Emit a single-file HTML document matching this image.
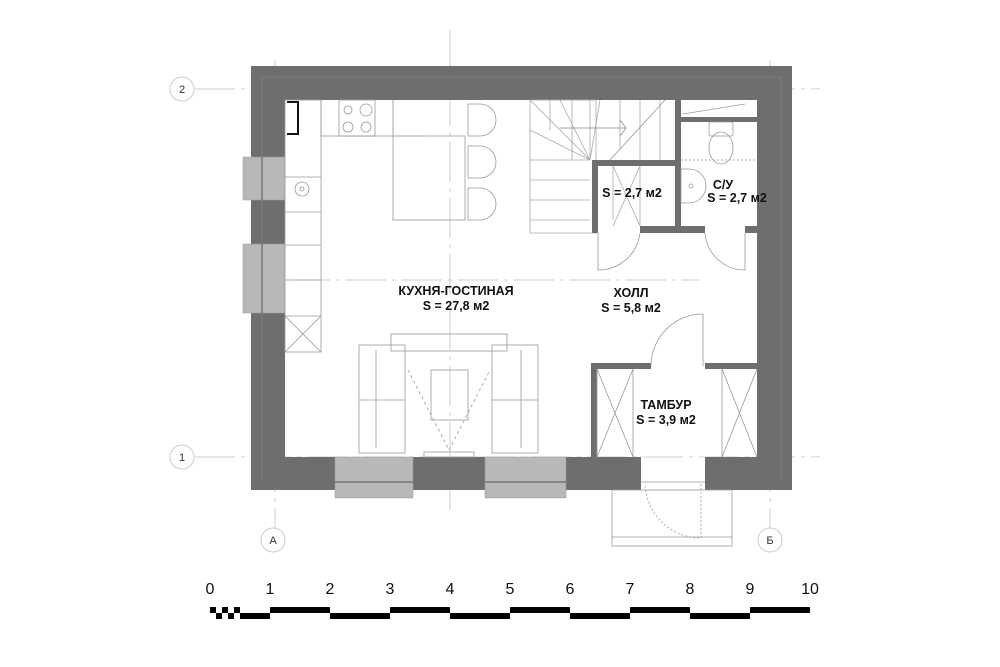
<!DOCTYPE html>
<html><head><meta charset="utf-8"><style>
html,body{margin:0;padding:0;background:#fff}
svg{display:block}
text{font-family:"Liberation Sans",sans-serif}
</style></head><body>
<svg width="1000" height="667" viewBox="0 0 1000 667" xmlns="http://www.w3.org/2000/svg">
<!-- axis lines -->
<g stroke="#ccc" stroke-width="1" fill="none">
<line x1="195" y1="89" x2="820" y2="89" stroke-dasharray="40 6 4 6"/>
<line x1="195" y1="457" x2="820" y2="457" stroke-dasharray="40 6 4 6"/>
<line x1="275" y1="60" x2="275" y2="528" stroke-dasharray="40 6 4 6"/>
<line x1="770" y1="60" x2="770" y2="528" stroke-dasharray="40 6 4 6"/>
<line x1="450" y1="30" x2="450" y2="510" stroke-dasharray="40 6 4 6"/>
<line x1="290" y1="280" x2="700" y2="280" stroke-dasharray="40 6 4 6"/>
</g>
<g fill="#fff" stroke="#ccc"><circle cx="182" cy="89" r="12"/><circle cx="182" cy="457" r="12"/><circle cx="273" cy="540" r="12"/><circle cx="770" cy="540" r="12"/></g>
<g font-size="11" text-anchor="middle" fill="#333"><text x="182" y="93">2</text><text x="182" y="461">1</text><text x="273" y="544">А</text><text x="770" y="544">Б</text></g>
<!-- outer walls -->
<path d="M251 66H792V490H705V457H757V100H285V457H641V490H251Z" fill="#6e6e6e" fill-rule="evenodd"/>
<path d="M262 77H781V479M262 77V479" fill="none" stroke="#888" stroke-width="0.6"/>
<!-- windows -->
<g fill="#b8b8b8" stroke="#999" stroke-width="0.5">
<rect x="243" y="157" width="42" height="43"/><rect x="243" y="244" width="42" height="69"/>
<rect x="335" y="457" width="78" height="41"/><rect x="485" y="457" width="81" height="41"/>
</g>
<g stroke="#555" stroke-width="1"><line x1="262" y1="157" x2="262" y2="200"/><line x1="262" y1="244" x2="262" y2="313"/><line x1="335" y1="482" x2="413" y2="482"/><line x1="485" y1="482" x2="566" y2="482"/></g>
<!-- kitchen -->
<g fill="none" stroke="#999" stroke-width="0.8">
<rect x="285" y="100" width="36" height="252"/>
<line x1="285" y1="177" x2="321" y2="177"/><line x1="285" y1="212" x2="321" y2="212"/><line x1="285" y1="245" x2="321" y2="245"/><line x1="285" y1="280" x2="321" y2="280"/><line x1="285" y1="316" x2="321" y2="316"/>
<path d="M285 316L321 352M321 316L285 352"/>
<path d="M321 100V136H393V100"/><rect x="339" y="100" width="36" height="36"/>
<circle cx="348" cy="110" r="4"/><circle cx="366" cy="110" r="6"/><circle cx="348" cy="127" r="5"/><circle cx="366" cy="127" r="5"/>
<circle cx="302" cy="189" r="7"/><circle cx="302" cy="189" r="2"/>
<rect x="393" y="136" width="72" height="84"/>
<path d="M468 104h12a16 16 0 0 1 0 32h-12z M468 146h12a16 16 0 0 1 0 32h-12z M468 188h12a16 16 0 0 1 0 32h-12z"/>
<line x1="393" y1="100" x2="393" y2="136" stroke-dasharray="2 2"/><line x1="393" y1="136" x2="428" y2="136" stroke-dasharray="2 2"/>
</g>
<path d="M287 102H298V134H287" fill="none" stroke="#111" stroke-width="2"/>
<!-- living -->
<g fill="none" stroke="#999" stroke-width="0.8">
<rect x="391" y="334" width="116" height="17"/>
<rect x="359" y="345" width="46" height="108"/><rect x="492" y="345" width="46" height="108"/>
<line x1="376" y1="350" x2="376" y2="448"/><line x1="521" y1="350" x2="521" y2="448"/>
<line x1="359" y1="400" x2="405" y2="400"/><line x1="492" y1="400" x2="538" y2="400"/>
<rect x="431" y="370" width="37" height="50"/>
<path d="M408 370L449 450L490 370" stroke-dasharray="3 3"/>
<rect x="424" y="452" width="50" height="5"/>
</g>
<!-- stair -->
<g fill="none" stroke="#aaa" stroke-width="0.8">
<rect x="530" y="100" width="66" height="133"/>
<path d="M530 100L590 160M560 100L590 160M600 100L590 160M530 130L590 160M530 160H590M530 180H590M530 200H590M530 220H590"/>
<path d="M550 100V130M572 100V160M590 100V160M620 100V150M640 100V160M660 100V160"/>
<path d="M560 128H625M620 120l6 8l-6 8" stroke="#888"/>
<path d="M610 160L665 100" stroke="#999"/>
<path d="M613 166V220M640 166V226M613 166L640 226M640 166L613 226"/>
</g>
<!-- partitions -->
<g fill="#6e6e6e">
<rect x="592" y="160" width="6" height="73"/><rect x="592" y="160" width="89" height="6"/><rect x="675" y="100" width="6" height="133"/>
<rect x="640" y="226" width="65" height="7"/><rect x="745" y="226" width="12" height="7"/>
<rect x="681" y="117" width="76" height="5"/>
<rect x="591" y="363" width="6" height="94"/><rect x="591" y="363" width="60" height="6"/><rect x="705" y="363" width="52" height="6"/>
</g>
<!-- bathroom -->
<g fill="none" stroke="#999" stroke-width="0.8">
<path d="M683 114L745 104"/>
<rect x="709" y="122" width="24" height="14" rx="2"/><ellipse cx="721" cy="148" rx="12" ry="16"/>
<path d="M681 169h8a17 17 0 0 1 0 34h-8z"/><circle cx="691" cy="186" r="2"/>
<line x1="681" y1="160" x2="757" y2="160" stroke-dasharray="2 2"/>
</g>
<!-- doors -->
<g fill="none" stroke="#999" stroke-width="0.8">
<path d="M598 233V270A42 42 0 0 0 640 233"/>
<path d="M745 233V270A40 40 0 0 1 705 233"/>
<path d="M651 366A52 52 0 0 1 703 314V366"/>
<path d="M701 484V538A56 56 0 0 1 645 484" stroke-dasharray="2 2"/>
<rect x="612" y="490" width="120" height="56"/><line x1="612" y1="537" x2="732" y2="537"/>
<path d="M597 369V457M633 369V457M597 369L633 457M633 369L597 457"/>
<path d="M722 369V457M757 369L722 457M722 369L757 457"/>
<line x1="641" y1="482" x2="705" y2="482"/>
</g>
<!-- labels -->
<g font-size="12.5" font-weight="bold" text-anchor="middle" fill="#111">
<text x="456" y="295">КУХНЯ-ГОСТИНАЯ</text><text x="456" y="310">S = 27,8 м2</text>
<text x="631" y="297">ХОЛЛ</text><text x="631" y="312">S = 5,8 м2</text>
<text x="666" y="409">ТАМБУР</text><text x="666" y="424">S = 3,9 м2</text>
<text x="632" y="197">S = 2,7 м2</text>
<text x="723" y="189">С/У</text><text x="737" y="202">S = 2,7 м2</text>
</g>
<!-- scale -->
<g font-size="16" text-anchor="middle" fill="#111">
<text x="210" y="594">0</text><text x="270" y="594">1</text><text x="330" y="594">2</text><text x="390" y="594">3</text><text x="450" y="594">4</text><text x="510" y="594">5</text><text x="570" y="594">6</text><text x="630" y="594">7</text><text x="690" y="594">8</text><text x="750" y="594">9</text><text x="810" y="594">10</text>
</g>
<g fill="#000">
<rect x="210" y="607" width="6" height="6"/><rect x="222" y="607" width="6" height="6"/><rect x="234" y="607" width="6" height="6"/>
<rect x="216" y="613" width="6" height="6"/><rect x="228" y="613" width="6" height="6"/>
<rect x="240" y="613" width="30" height="6"/>
<rect x="270" y="607" width="60" height="6"/><rect x="330" y="613" width="60" height="6"/><rect x="390" y="607" width="60" height="6"/><rect x="450" y="613" width="60" height="6"/><rect x="510" y="607" width="60" height="6"/><rect x="570" y="613" width="60" height="6"/><rect x="630" y="607" width="60" height="6"/><rect x="690" y="613" width="60" height="6"/><rect x="750" y="607" width="60" height="6"/>
</g>
</svg>
</body></html>
